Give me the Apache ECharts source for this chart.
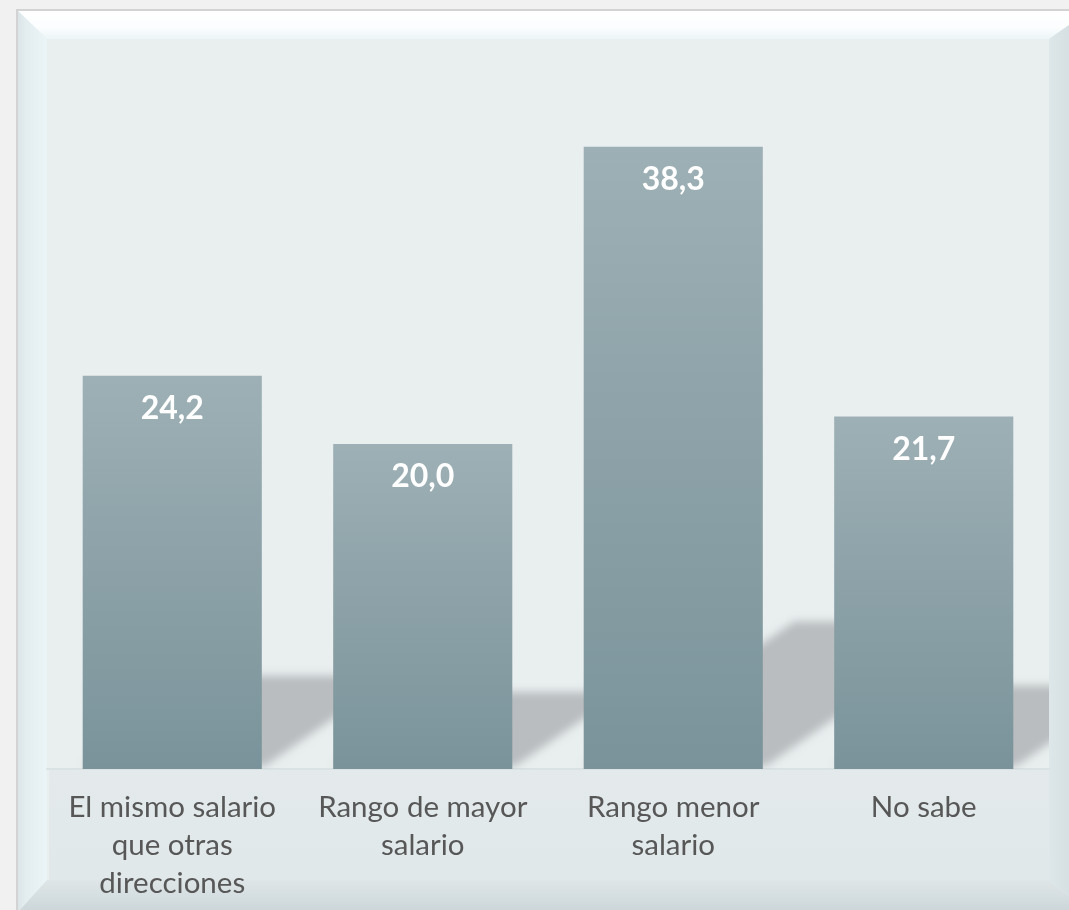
<!DOCTYPE html>
<html>
<head>
<meta charset="utf-8">
<script src="https://cdn.jsdelivr.net/npm/echarts@6/dist/echarts.min.js"></script>
<style>
  html, body { margin: 0; padding: 0; background: #f1f1f1; }
  #chart { width: 1069px; height: 910px; }
</style>
</head>
<body>
<div id="chart"></div>
<script>
// Percentages by perceived salary range
const categories = [
  'El mismo salario\nque otras\ndirecciones',
  'Rango de mayor\nsalario',
  'Rango menor\nsalario',
  'No sabe'
];
const values = [24.2, 20.0, 38.3, 21.7];
const valueLabels = ['24,2', '20,0', '38,3', '21,7'];

const W = 1069, H = 910;
const BAR_RATIO = 0.715;      // bar width relative to category band
const SHADOW_RISE = 0.237;    // shadow height relative to bar height
const SHADOW_SLOPE = 0.7;     // vertical/horizontal slope of shadow edges
const SHIFT = 3000;           // shape drawn off-canvas so only its blurred shadow shows

const chart = echarts.init(document.getElementById('chart'), null, { renderer: 'canvas' });

// Beveled panel behind the plot
const frame = [
  { type: 'rect', shape: { x: 0, y: 0, width: W, height: H }, style: { fill: '#f1f1f1' }, z: -20 },
  { type: 'rect', shape: { x: 17, y: 10, width: W, height: H }, style: { fill: '#e9eeef', stroke: '#d3d3d3', lineWidth: 2 }, z: -19 },
  // top bevel
  { type: 'polygon', shape: { points: [[18, 11], [W + 20, 11], [1049, 39], [47, 39]] },
    style: { fill: new echarts.graphic.LinearGradient(0, 0, 0, 1, [
      { offset: 0, color: '#ffffff' }, { offset: 0.6, color: '#fbfdfe' }, { offset: 1, color: '#ecf5f7' }]) }, z: -18 },
  // left bevel
  { type: 'polygon', shape: { points: [[18, 11], [47, 39], [47, 880], [18, 912]] },
    style: { fill: new echarts.graphic.LinearGradient(0, 0, 1, 0, [
      { offset: 0, color: '#dbe5e8' }, { offset: 0.25, color: '#e3edf0' }, { offset: 1, color: '#ebf4f6' }]) }, z: -18 },
  // right bevel
  { type: 'polygon', shape: { points: [[1049, 39], [W + 20, 11], [W + 20, 912], [1049, 880]] },
    style: { fill: new echarts.graphic.LinearGradient(0, 0, 1, 0, [
      { offset: 0, color: '#dde6e8' }, { offset: 1, color: '#cfd9dc' }]) }, z: -18 },
  // bottom bevel
  { type: 'polygon', shape: { points: [[18, 912], [47, 880], [1049, 880], [W + 20, 912]] },
    style: { fill: new echarts.graphic.LinearGradient(0, 0, 0, 1, [
      { offset: 0, color: '#dee6e8' }, { offset: 1, color: '#ccd5d8' }]) }, z: -18 },
  // floor under the bars
  { type: 'rect', shape: { x: 49, y: 769, width: 1000, height: 111 },
    style: { fill: new echarts.graphic.LinearGradient(0, 0, 0, 1, [
      { offset: 0, color: '#e4eaeb' }, { offset: 1, color: '#e0e8ea' }]) }, z: -17 }
];

// Slanted, soft floor shadow behind each bar, derived from the bar's own value
function renderShadow(params, api) {
  const idx = api.value(0);
  const v = api.value(1);
  const base = api.coord([idx, 0]);
  const top = api.coord([idx, v]);
  const band = api.size([1, 0])[0];
  const bw = band * BAR_RATIO;
  const x0 = base[0] - bw / 2, x1 = base[0] + bw / 2;
  const h = base[1] - top[1];
  const rise = h * SHADOW_RISE;
  const run = rise / SHADOW_SLOPE;
  const y0 = base[1] - 3;
  const pts = [[x0, y0], [x1 + 3, y0], [x1 + run, base[1] - rise], [x0 + run, base[1] - rise]]
    .map(p => [p[0] - SHIFT, p[1]]);
  return {
    type: 'polygon',
    shape: { points: pts },
    style: {
      fill: '#b9bdbf',
      shadowBlur: 9,
      shadowColor: '#b9bdbf',
      shadowOffsetX: SHIFT,
      shadowOffsetY: 0
    }
  };
}

chart.setOption({
  backgroundColor: '#f1f1f1',
  animation: false,
  graphic: { elements: frame },
  grid: { left: 47, right: 20, top: 119, bottom: 141, containLabel: false },
  xAxis: {
    type: 'category',
    data: categories,
    axisTick: { show: false },
    axisLine: { show: true, lineStyle: { color: '#dbe2e4', width: 2 } },
    axisLabel: {
      interval: 0,
      margin: 19,
      color: '#575757',
      fontFamily: 'Lato',
      fontSize: 29.5,
      lineHeight: 38
    }
  },
  yAxis: { type: 'value', min: 0, max: 40, show: false, splitLine: { show: false } },
  series: [
    {
      type: 'custom',
      z: 1,
      clip: true,
      renderItem: renderShadow,
      data: values.map((v, i) => [i, v]),
      silent: true
    },
    {
      type: 'bar',
      z: 3,
      barWidth: (BAR_RATIO * 100) + '%',
      data: values,
      itemStyle: {
        color: new echarts.graphic.LinearGradient(0, 0, 0, 1, [
          { offset: 0, color: '#9db0b5' },
          { offset: 1, color: '#7a939a' }
        ])
      },
      label: {
        show: true,
        position: 'insideTop',
        distance: 17,
        color: '#ffffff',
        fontFamily: 'Lato',
        fontWeight: 'bold',
        fontSize: 32,
        formatter: p => valueLabels[p.dataIndex]
      }
    }
  ]
});
</script>
</body>
</html>
